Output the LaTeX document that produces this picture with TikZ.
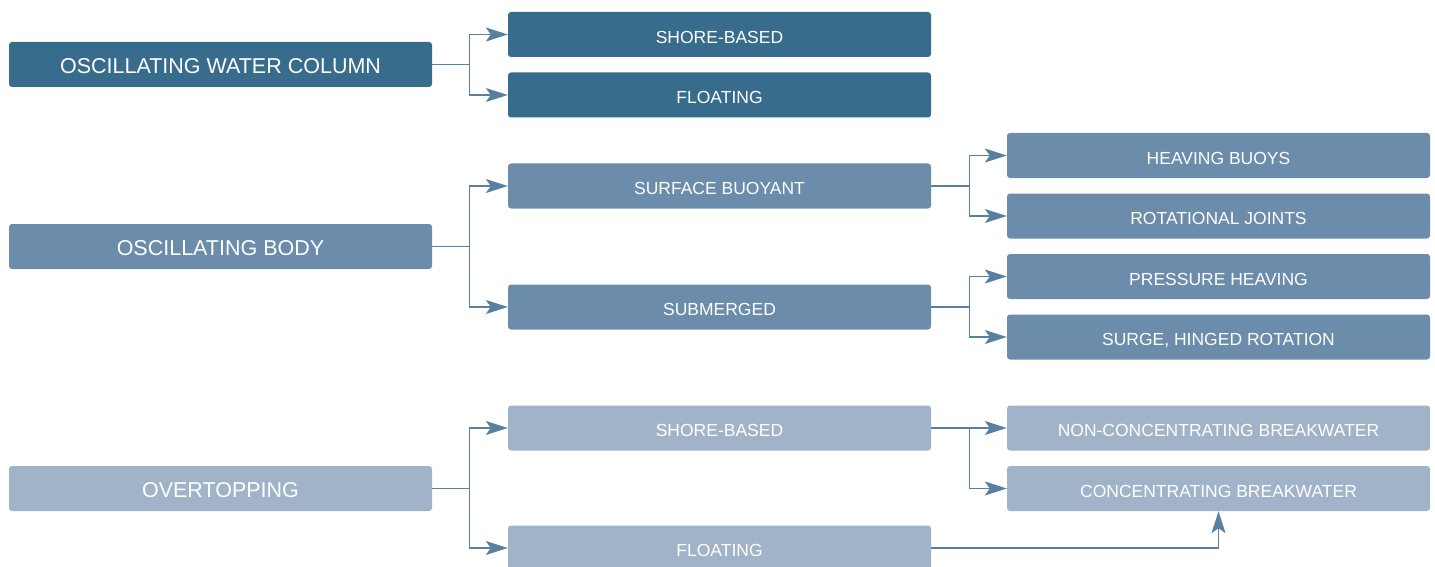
\documentclass[tikz,border=0pt]{standalone}
\usepackage{fontspec}
\setmainfont{Liberation Sans}
\usetikzlibrary{arrows.meta}
\begin{document}
\definecolor{cdark}{HTML}{386C8C}
\definecolor{cmed}{HTML}{6B8CAB}
\definecolor{clight}{HTML}{A1B3C9}
\definecolor{carrow}{HTML}{5A80A0}
\tikzset{
  box/.style={rectangle, rounded corners=3pt, minimum width=423pt, minimum height=45pt, inner sep=0pt, text=white, draw=none},
  bigtext/.style={font=\fontsize{21.5}{24}\selectfont, text height=17.4pt, text depth=0pt},
  smalltext/.style={font=\fontsize{17.5}{20}\selectfont, text height=17.6pt, text depth=0pt},
  conn/.style={draw=carrow, line width=1.2pt, -{Stealth[length=22pt,width=14pt,inset=5pt]}},
}
\begin{tikzpicture}[x=1pt,y=-1pt]
\useasboundingbox (0,0) rectangle (1435,567);
% left
\node[box,bigtext,fill=cdark] (owc) at (220.5,64.5) {OSCILLATING WATER COLUMN};
\node[box,bigtext,fill=cmed] (ob) at (220.5,246.5) {OSCILLATING BODY};
\node[box,bigtext,fill=clight] (ot) at (220.5,488.5) {OVERTOPPING};
% middle
\node[box,smalltext,fill=cdark] (m1) at (719.5,34.5) {SHORE-BASED};
\node[box,smalltext,fill=cdark] (m2) at (719.5,95) {FLOATING};
\node[box,smalltext,fill=cmed] (m3) at (719.5,186) {SURFACE BUOYANT};
\node[box,smalltext,fill=cmed] (m4) at (719.5,307) {SUBMERGED};
\node[box,smalltext,fill=clight] (m5) at (719.5,428) {SHORE-BASED};
\node[box,smalltext,fill=clight] (m6) at (719.5,548) {FLOATING};
% right
\node[box,smalltext,fill=cmed] (r1) at (1218.5,155.5) {HEAVING BUOYS};
\node[box,smalltext,fill=cmed] (r2) at (1218.5,216) {ROTATIONAL JOINTS};
\node[box,smalltext,fill=cmed] (r3) at (1218.5,276.5) {PRESSURE HEAVING};
\node[box,smalltext,fill=cmed] (r4) at (1218.5,337) {SURGE, HINGED ROTATION};
\node[box,smalltext,fill=clight] (r5) at (1218.5,428) {NON-CONCENTRATING BREAKWATER};
\node[box,smalltext,fill=clight] (r6) at (1218.5,488.5) {CONCENTRATING BREAKWATER};
% connectors
\draw[conn] (owc.east) -- ++(37,0) |- (m1.west);
\draw[conn] (owc.east) -- ++(37,0) |- (m2.west);
\draw[conn] (ob.east) -- ++(37,0) |- (m3.west);
\draw[conn] (ob.east) -- ++(37,0) |- (m4.west);
\draw[conn] (ot.east) -- ++(37,0) |- (m5.west);
\draw[conn] (ot.east) -- ++(37,0) |- (m6.west);
\draw[conn] (m3.east) -- ++(38,0) |- (r1.west);
\draw[conn] (m3.east) -- ++(38,0) |- (r2.west);
\draw[conn] (m4.east) -- ++(38,0) |- (r3.west);
\draw[conn] (m4.east) -- ++(38,0) |- (r4.west);
\draw[conn] (m5.east) -- ++(38,0) |- (r5.west);
\draw[conn] (m5.east) -- ++(38,0) |- (r6.west);
\draw[conn] (m6.east) -| (r6.south);
\end{tikzpicture}
\end{document}
